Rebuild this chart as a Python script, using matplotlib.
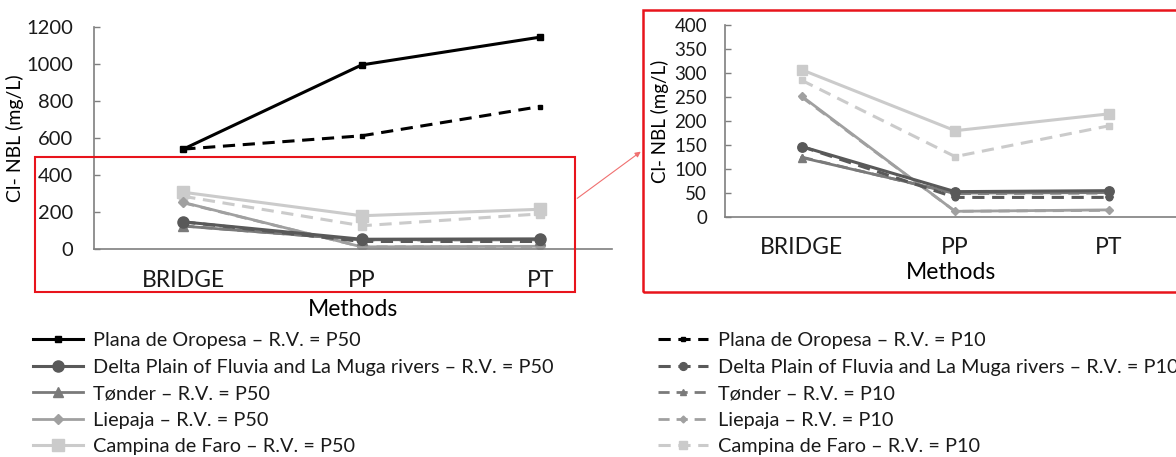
import matplotlib.pyplot as plt
from matplotlib.patches import Rectangle, FancyArrowPatch

plt.rcParams['font.family'] = ['Lato', 'DejaVu Sans']
plt.rcParams['text.color'] = '#1a1a1a'

methods = ["BRIDGE", "PP", "PT"]

plana_p50 = [540, 995, 1145]
plana_p10 = [540, 612, 770]
delta_p50 = [147, 53, 55]
delta_p10 = [147, 41, 41]
tonder_p50 = [124, 50, 51]
tonder_p10 = [125, 49, 50]
liepaja_p50 = [252, 12, 15]
liepaja_p10 = [250, 12, 14]
campina_p50 = [307, 180, 215]
campina_p10 = [285, 126, 190]

names = ["Plana de Oropesa", "Delta Plain of Fluvia and La Muga rivers",
         "Tønder", "Liepaja", "Campina de Faro"]
p50 = [plana_p50, delta_p50, tonder_p50, liepaja_p50, campina_p50]
p10 = [plana_p10, delta_p10, tonder_p10, liepaja_p10, campina_p10]
colors = ["#000000", "#595959", "#7a7a7a", "#a0a0a0", "#cbcbcb"]
markers = ["s", "o", "^", "D", "s"]
msizes = [5, 8, 7, 5, 8]
lws = [2.2, 2.2, 2.0, 2.0, 2.2]

fig = plt.figure(figsize=(11.76, 4.57), dpi=100)

def style_axes(ax, tick_fs, cat_fs, lab_fs, label_fs, ypad, pad, labpad, ylabpad):
    for s in ['top', 'right']:
        ax.spines[s].set_visible(False)
    for s in ['left', 'bottom']:
        ax.spines[s].set_color('#7f7f7f')
        ax.spines[s].set_linewidth(1.2)
    ax.tick_params(axis='x', length=0, labelsize=cat_fs, pad=pad, labelcolor='#1a1a1a')
    ax.tick_params(axis='y', direction='in', length=4, width=1, color='#7f7f7f',
                   labelsize=tick_fs, pad=ypad, labelcolor='#1a1a1a')
    ax.set_xlabel("Methods", fontsize=lab_fs, labelpad=labpad)
    ax.set_ylabel("Cl- NBL (mg/L)", fontsize=label_fs, labelpad=ylabpad)

# main chart
ax1 = fig.add_axes([0.080, 0.455, 0.440, 0.486])
x = range(len(methods))
handles50, handles10 = [], []
for i in range(5):
    h50, = ax1.plot(x, p50[i], color=colors[i], marker=markers[i], ms=msizes[i],
                    lw=lws[i], label=names[i] + " – R.V. = P50", zorder=5 - i)
    h10, = ax1.plot(x, p10[i], color=colors[i], marker=markers[i], ms=msizes[i] * 0.7,
                    lw=lws[i], ls=(0, (4, 2.5)), label=names[i] + " – R.V. = P10",
                    zorder=5 - i)
    handles50.append(h50)
    handles10.append(h10)
ax1.set_xlim(-0.5, 2.4)
ax1.set_ylim(0, 1200)
ax1.set_yticks(range(0, 1201, 200))
ax1.set_xticks(list(x))
ax1.set_xticklabels(methods)
style_axes(ax1, 14.5, 16.5, 16.5, 14, 15, 15, 6, 2)

# zoomed chart 0-400
ax2 = fig.add_axes([0.6165, 0.525, 0.3835, 0.420])
for i in range(1, 5):
    ax2.plot(x, p50[i], color=colors[i], marker=markers[i], ms=msizes[i] * 0.85,
             lw=lws[i], zorder=5 - i)
    ax2.plot(x, p10[i], color=colors[i], marker=markers[i], ms=msizes[i] * 0.6,
             lw=lws[i], ls=(0, (4, 2.5)), zorder=5 - i)
ax2.set_xlim(-0.5, 2.44)
ax2.set_ylim(0, 400)
ax2.set_yticks(range(0, 401, 50))
ax2.set_xticks(list(x))
ax2.set_xticklabels(methods)
style_axes(ax2, 13.5, 16.5, 16.5, 13.5, 13, 14, 3, 4)

# red frames and connecting arrow
W, H = 1176, 457
fig.patches.append(Rectangle((35 / W, 1 - 292 / H), 540 / W, 135 / H,
                             transform=fig.transFigure, fill=False,
                             ec='#e8141c', lw=1.5))
fig.patches.append(Rectangle((643 / W, 1 - 292 / H), 540 / W, 282 / H,
                             transform=fig.transFigure, fill=False,
                             ec='#e8141c', lw=1.8))
fig.patches.append(FancyArrowPatch((575 / W, 1 - 200 / H), (643 / W, 1 - 150 / H),
                                   transform=fig.transFigure, arrowstyle='-|>',
                                   mutation_scale=8, color='#f07070', lw=0.8))

leg_kw = dict(frameon=False, fontsize=14.3, handlelength=2.5, labelspacing=0.48,
              handletextpad=0.5, borderaxespad=0, borderpad=0)
fig.legend(handles=handles50, loc='upper left', bbox_to_anchor=(33 / W, 1 - 332 / H), **leg_kw)
fig.legend(handles=handles10, loc='upper left', bbox_to_anchor=(658 / W, 1 - 332 / H), **leg_kw)

fig.savefig("out.png", dpi=100)
